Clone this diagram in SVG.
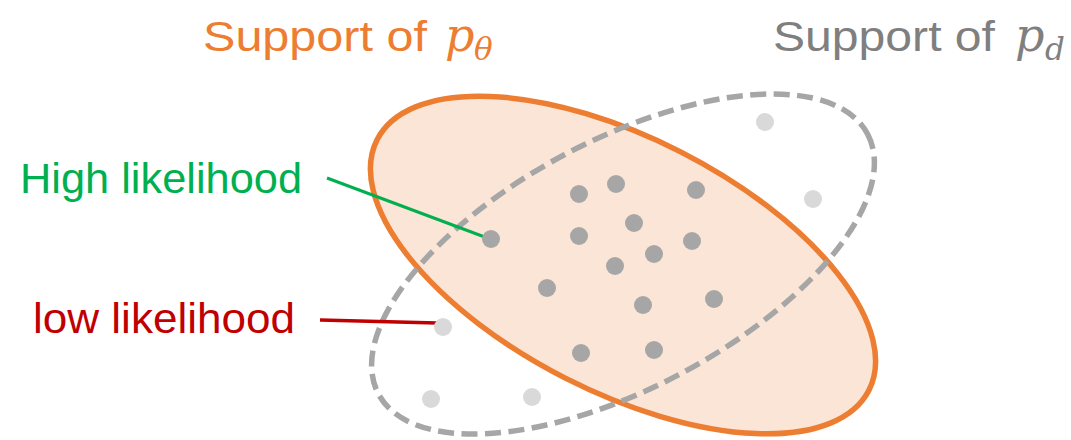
<svg xmlns="http://www.w3.org/2000/svg" width="1071" height="440" viewBox="0 0 1071 440">
  <style>
    .lbl { font-family: "Liberation Sans", Arial, sans-serif; font-size: 42px; }
    .math { font-family: "DejaVu Serif", "Liberation Serif", serif; font-style: italic; }
    .dot { fill: #a6a6a6; }
    .ldot { fill: #d9d9d9; }
    .orange { fill: #ed7d31; }
    .gray { fill: #7f7f7f; }
  </style>
  <rect width="1071" height="440" fill="#ffffff"/>

  <g id="support-ptheta">
    <ellipse cx="623" cy="265" rx="276" ry="127" transform="rotate(27 623 265)" fill="#fbe5d6" stroke="#ed7d31" stroke-width="5.5"/>
  </g>
  <g id="support-pd">
    <ellipse cx="623" cy="264" rx="277" ry="124" transform="rotate(-28 623 264)" fill="none" stroke="#a6a6a6" stroke-width="5.5" stroke-dasharray="16 7.5"/>
  </g>

  <g id="connectors" stroke-linecap="butt">
    <line x1="327" y1="178" x2="490" y2="239" stroke="#00b050" stroke-width="3"/>
    <line x1="320" y1="320" x2="437" y2="323" stroke="#c00000" stroke-width="3.5"/>
  </g>

  <g id="samples">
    <circle class="dot" cx="579" cy="194" r="9"/>
    <circle class="dot" cx="616" cy="184" r="9"/>
    <circle class="dot" cx="696" cy="190" r="9"/>
    <circle class="dot" cx="634" cy="223" r="9"/>
    <circle class="dot" cx="579" cy="236" r="9"/>
    <circle class="dot" cx="692" cy="241" r="9"/>
    <circle class="dot" cx="654" cy="254" r="9"/>
    <circle class="dot" cx="615" cy="266" r="9"/>
    <circle class="dot" cx="491" cy="239" r="9"/>
    <circle class="dot" cx="547" cy="288" r="9"/>
    <circle class="dot" cx="643" cy="305" r="9"/>
    <circle class="dot" cx="714" cy="299" r="9"/>
    <circle class="dot" cx="581" cy="353" r="9"/>
    <circle class="dot" cx="654" cy="350" r="9"/>
    <circle class="ldot" cx="765" cy="122" r="9"/>
    <circle class="ldot" cx="813" cy="199" r="9"/>
    <circle class="ldot" cx="443" cy="327" r="9"/>
    <circle class="ldot" cx="431" cy="399" r="9"/>
    <circle class="ldot" cx="532" cy="397" r="9"/>
  </g>

  <g id="title-ptheta">
    <text class="lbl orange" x="203" y="51" font-size="47" textLength="224" lengthAdjust="spacingAndGlyphs">Support of</text>
    <text class="math orange" x="445" y="51" font-size="46">p</text>
    <text class="math orange" x="474" y="60" font-size="31">θ</text>
  </g>
  <g id="title-pd">
    <text class="lbl gray" x="773" y="51" font-size="47" textLength="222" lengthAdjust="spacingAndGlyphs">Support of</text>
    <text class="math gray" x="1015" y="51" font-size="46">p</text>
    <text class="math gray" x="1045" y="60" font-size="31">d</text>
  </g>

  <g id="label-high">
    <text class="lbl" x="20" y="193" fill="#00b050" font-size="40" textLength="282" lengthAdjust="spacingAndGlyphs">High likelihood</text>
  </g>
  <g id="label-low">
    <text class="lbl" x="33" y="333" fill="#c00000" font-size="40" textLength="262" lengthAdjust="spacingAndGlyphs">low likelihood</text>
  </g>
</svg>
